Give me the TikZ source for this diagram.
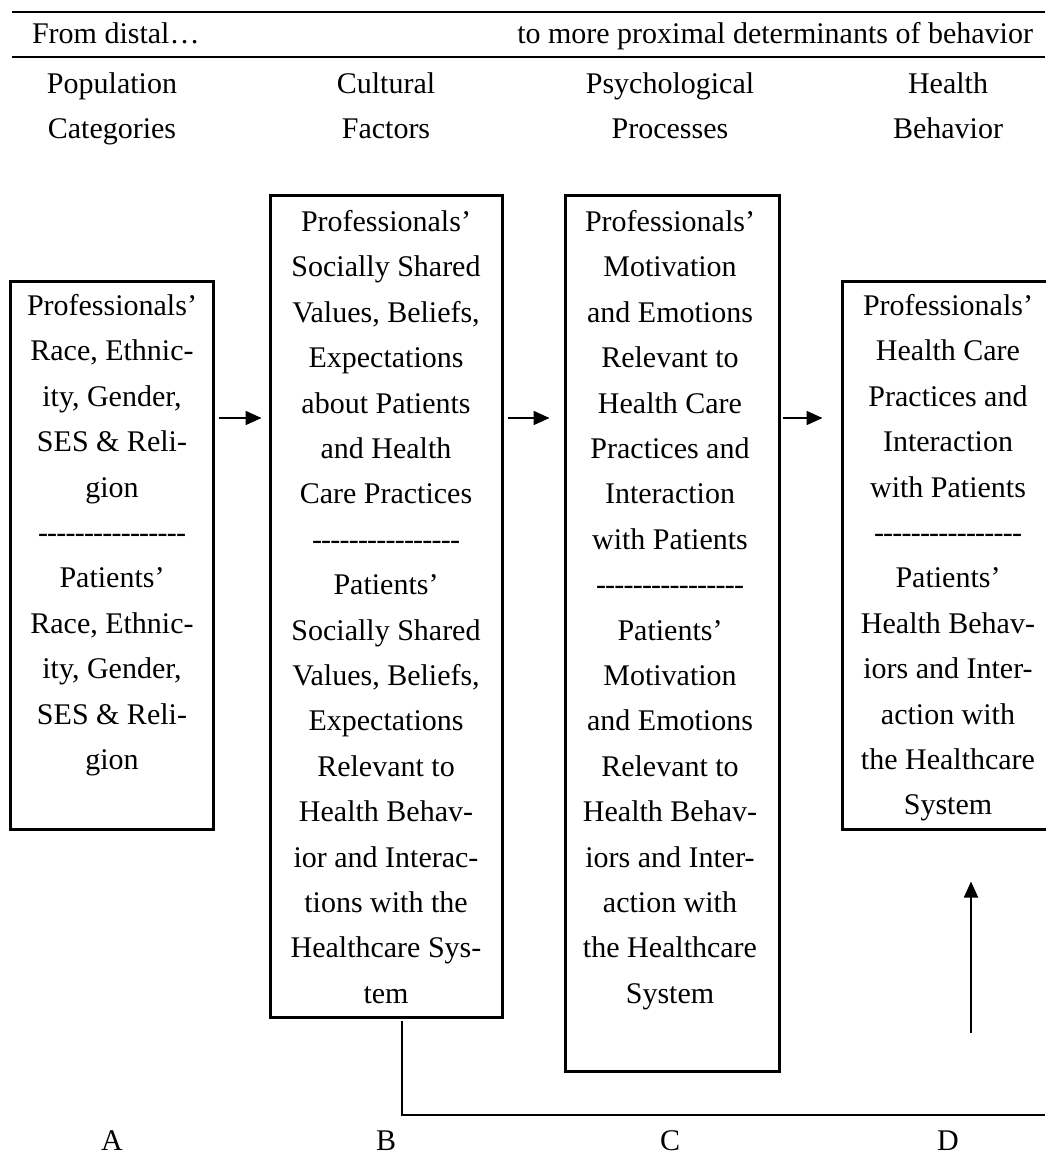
\documentclass[tikz,border=0pt]{standalone}
\usepackage{fontspec}
\setmainfont{Liberation Serif}
\usetikzlibrary{arrows.meta}

\newcommand{\dashrow}{\hbox to 74pt{\cleaders\hbox to 4.6pt{\hss-\hss}\hfill}}

\begin{document}
\begin{tikzpicture}[x=0.5pt,y=-0.5pt,
		every node/.style={font=\fontsize{15}{22.7}\selectfont},
		frame/.style={draw,line width=1.5pt,inner sep=0pt},
		boxtext/.style={anchor=north,align=center,inner sep=0pt},
		title/.style={align=center,inner sep=0pt},
		link/.style={line width=0.8pt},
		arr/.style={-{Triangle[length=8pt,width=7pt]},line width=0.9pt}]
		\useasboundingbox (0,0) rectangle (1045,1155);

		% Header rules
		\draw[line width=1.2pt] (12,12) -- (1045,12);
		\draw[line width=1.2pt] (12,57) -- (1045,57);
		\node[anchor=base west] (distal) at (25,44) {From distal\ldots};
		\node[anchor=base east] (proximal) at (1040,44) {to more proximal determinants of behavior};

		% Column titles
		\node[title] (titleA) at (112,107) {\strut Population\\\strut Categories};
		\node[title] (titleB) at (386,107) {\strut Cultural\\\strut Factors};
		\node[title] (titleC) at (670,107) {\strut Psychological\\\strut Processes};
		\node[title] (titleD) at (948,107) {\strut Health\\\strut Behavior};

		% Boxes
		\node[frame,minimum width=101.5pt,minimum height=274pt] (boxA) at (111.5,555) {};
		\node[frame,minimum width=116pt,minimum height=410.5pt] (boxB) at (386,606.5) {};
		\node[frame,minimum width=107pt,minimum height=437.5pt] (boxC) at (672,633.5) {};
		\node[frame,minimum width=104pt,minimum height=274pt] (boxD) at (946,555) {};

		% Box texts
		\node[boxtext] (textA) at (112,294) {Professionals'\\Race, Ethnic-\\ity, Gender,\\SES \& Reli-\\gion\\\dashrow\\Patients'\\Race, Ethnic-\\ity, Gender,\\SES \& Reli-\\gion};
		\node[boxtext] (textB) at (386,210) {Professionals'\\Socially Shared\\Values, Beliefs,\\Expectations\\about Patients\\and Health\\Care Practices\\\dashrow\\Patients'\\Socially Shared\\Values, Beliefs,\\Expectations\\Relevant to\\Health Behav-\\ior and Interac-\\tions with the\\Healthcare Sys-\\tem};
		\node[boxtext] (textC) at (670,210) {Professionals'\\Motivation\\and Emotions\\Relevant to\\Health Care\\Practices and\\Interaction\\with Patients\\\dashrow\\Patients'\\Motivation\\and Emotions\\Relevant to\\Health Behav-\\iors and Inter-\\action with\\the Healthcare\\System};
		\node[boxtext] (textD) at (948,294) {Professionals'\\Health Care\\Practices and\\Interaction\\with Patients\\\dashrow\\Patients'\\Health Behav-\\iors and Inter-\\action with\\the Healthcare\\System};

		% Arrows between boxes
		\coordinate (row) at (0,418);
		\draw[arr,shorten <=2pt,shorten >=3.5pt] (boxA.east |- row) -- (boxB.west |- row);
		\draw[arr,shorten <=2pt,shorten >=7pt] (boxB.east |- row) -- (boxC.west |- row);
		\draw[arr,shorten <=1pt,shorten >=9pt] (boxC.east |- row) -- (boxD.west |- row);

		% Feedback line
		\coordinate (tap) at (402,1021);
		\coordinate (loopend) at (1045,1115);
		\draw[link] (tap) |- (loopend);
		\coordinate (feed) at (971,1033);
		\draw[arr,shorten >=25.5pt] (feed) -- (boxD.south -| feed);

		% Column letters
		\node[inner sep=1pt] (labA) at (112,1141) {A};
		\node[inner sep=1pt] (labB) at (386,1141) {B};
		\node[inner sep=1pt] (labC) at (670,1141) {C};
		\node[inner sep=1pt] (labD) at (948,1141) {D};
	\end{tikzpicture}
\end{document}
